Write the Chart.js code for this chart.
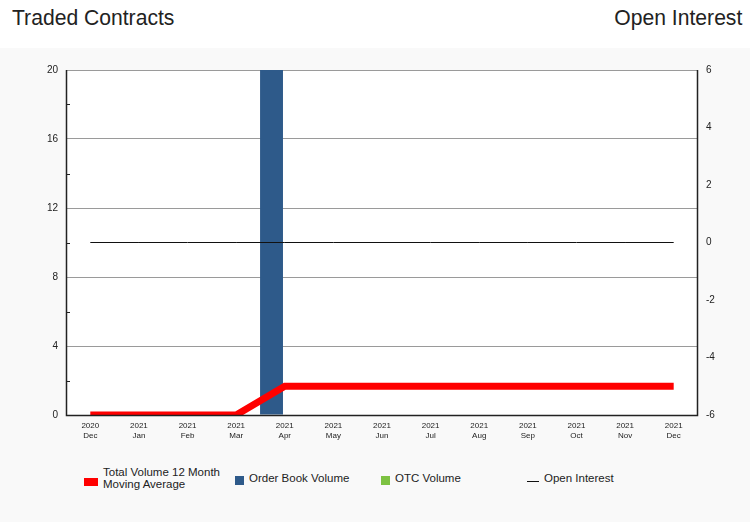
<!DOCTYPE html>
<html><head><meta charset="utf-8">
<script src="https://cdn.jsdelivr.net/npm/chart.js@4/dist/chart.umd.min.js"></script>
<style>
html,body{margin:0;padding:0;background:#fff;width:750px;height:522px;overflow:hidden;font-family:"Liberation Sans",Arial,sans-serif;}
#hdr{position:relative;height:48px;background:#fff;}
#hdr .t{position:absolute;top:5px;font-family:"Liberation Sans Narrow","Liberation Sans",sans-serif;font-size:22px;color:#222;white-space:nowrap;}
#hdr .l{left:12px;transform:scaleX(0.96);transform-origin:left top;}
#hdr .r{right:8px;transform:scaleX(0.96);transform-origin:right top;}
#wrap{position:absolute;top:48px;left:0;width:750px;height:474px;background:#f9f9f9;}
#cv{position:absolute;top:0;left:0;}
#legend{position:absolute;top:418px;left:84px;display:flex;font-size:11.5px;color:#222;}
#legend .it{width:146px;display:flex;align-items:center;}
#legend .it:first-child{width:151px;}
#legend .bx{display:inline-block;margin-right:5px;flex:none;}
#legend .tx{line-height:12px;}
</style></head>
<body>
<div id="hdr"><span class="t l">Traded Contracts</span><span class="t r">Open Interest</span></div>
<div id="wrap"><canvas id="cv" width="750" height="407"></canvas><div id="legend"></div></div>
<script>
const years = ['2020','2021','2021','2021','2021','2021','2021','2021','2021','2021','2021','2021','2021'];
const months = ['Dec','Jan','Feb','Mar','Apr','May','Jun','Jul','Aug','Sep','Oct','Nov','Dec'];
const movingAverage = [0,0,0,0,1.67,1.67,1.67,1.67,1.67,1.67,1.67,1.67,1.67];
const orderBookVolume = [0,0,0,0,20,0,0,0,0,0,0,0,0];
const otcVolume = [0,0,0,0,0,0,0,0,0,0,0,0,0];
const openInterest = [0,0,0,0,0,0,0,0,0,0,0,0,0];
const leftTicks = {min:0,max:20,step:2,labelEvery:4};
const rightTicks = {min:-6,max:6,step:2};

const labels = years.map((y,i)=>[y, months[i]]);

const bgPlugin = {
  id:'bg',
  beforeDraw(chart){
    const {ctx, chartArea:a} = chart;
    ctx.save(); ctx.fillStyle='#ffffff'; ctx.fillRect(a.left,a.top,a.right-a.left,a.bottom-a.top); ctx.restore();
  },
  afterDatasetsDraw(chart){
    const {ctx, chartArea:a, scales} = chart;
    const y = scales.y;
    ctx.save();
    ctx.strokeStyle='#222'; ctx.lineWidth=1;
    for(let v=leftTicks.min; v<=leftTicks.max; v+=leftTicks.step){
      if(v % leftTicks.labelEvery !== 0){
        const py = Math.round(y.getPixelForValue(v))+0.5;
        ctx.beginPath(); ctx.moveTo(a.left,py); ctx.lineTo(a.left+4,py); ctx.stroke();
      }
    }
    ctx.strokeStyle='#222'; ctx.lineWidth=1.5;
    ctx.beginPath();
    ctx.moveTo(a.left+0.5,a.top); ctx.lineTo(a.left+0.5,a.bottom+0.5); ctx.lineTo(a.right-0.5,a.bottom+0.5); ctx.lineTo(a.right-0.5,a.top);
    ctx.stroke();
    ctx.restore();
  }
};

const chart = new Chart(document.getElementById('cv'), {
  type:'bar',
  data:{labels, datasets:[
    {type:'line', label:'Total Volume 12 Month Moving Average', data:movingAverage, borderColor:'#ff0000', backgroundColor:'#ff0000', borderWidth:7, pointRadius:0, yAxisID:'y', order:1, tension:0, borderCapStyle:'butt', borderJoinStyle:'miter'},
    {label:'Order Book Volume', data:orderBookVolume, backgroundColor:'#2e5a8a', yAxisID:'y', order:3, barPercentage:0.865, categoryPercentage:1.09},
    {label:'OTC Volume', data:otcVolume, backgroundColor:'#7dc242', yAxisID:'y', order:3, barPercentage:0.865, categoryPercentage:1.09},
    {type:'line', label:'Open Interest', data:openInterest, borderColor:'#111', backgroundColor:'#111', borderWidth:1, pointRadius:0, yAxisID:'y2', order:0}
  ]},
  options:{
    responsive:false, animation:false,
    layout:{padding:{top:22,left:0,right:0,bottom:0}},
    plugins:{legend:{display:false}, tooltip:{enabled:false}},
    scales:{
      x:{offset:true, grid:{display:false, drawTicks:false}, border:{display:false},
         ticks:{color:'#222', font:{family:'Liberation Sans', size:8}, maxRotation:0, autoSkip:false, padding:6},
         afterFit(s){s.height=40;}},
      y:{position:'left', min:leftTicks.min, max:leftTicks.max,
         ticks:{stepSize:leftTicks.step, color:'#222', font:{family:'Liberation Sans', size:10}, padding:8,
           callback:(v)=> v % leftTicks.labelEvery === 0 ? String(v) : ''},
         grid:{drawTicks:false, color:(c)=> (c.tick && c.tick.value % leftTicks.labelEvery === 0 && c.tick.value!==0) ? '#9a9a9a' : 'rgba(0,0,0,0)'},
         border:{display:false},
         afterFit(s){s.width=66;}},
      y2:{position:'right', min:rightTicks.min, max:rightTicks.max,
         ticks:{stepSize:rightTicks.step, color:'#222', font:{family:'Liberation Sans', size:10}, padding:8},
         grid:{display:false, drawTicks:false}, border:{display:false},
         afterFit(s){s.width=52;}}
    }
  },
  plugins:[bgPlugin]
});

const lg = document.getElementById('legend');
chart.data.datasets.forEach((d)=>{
  const it = document.createElement('div'); it.className='it';
  const bx = document.createElement('span'); bx.className='bx';
  if(d.type==='line' && d.borderWidth<=1){ bx.style.width='12px'; bx.style.height='1px'; bx.style.background=d.borderColor; bx.style.marginTop='6px'; }
  else if(d.type==='line'){ bx.style.width='14px'; bx.style.height='8px'; bx.style.background=d.borderColor; bx.style.marginTop='8px'; }
  else { bx.style.width='9px'; bx.style.height='9px'; bx.style.background=d.backgroundColor; bx.style.marginTop='4px'; }
  const tx = document.createElement('span'); tx.className='tx';
  tx.innerHTML = d.label==='Total Volume 12 Month Moving Average' ? 'Total Volume 12 Month<br>Moving Average' : d.label;
  it.appendChild(bx); it.appendChild(tx); lg.appendChild(it);
});
</script>
</body></html>
